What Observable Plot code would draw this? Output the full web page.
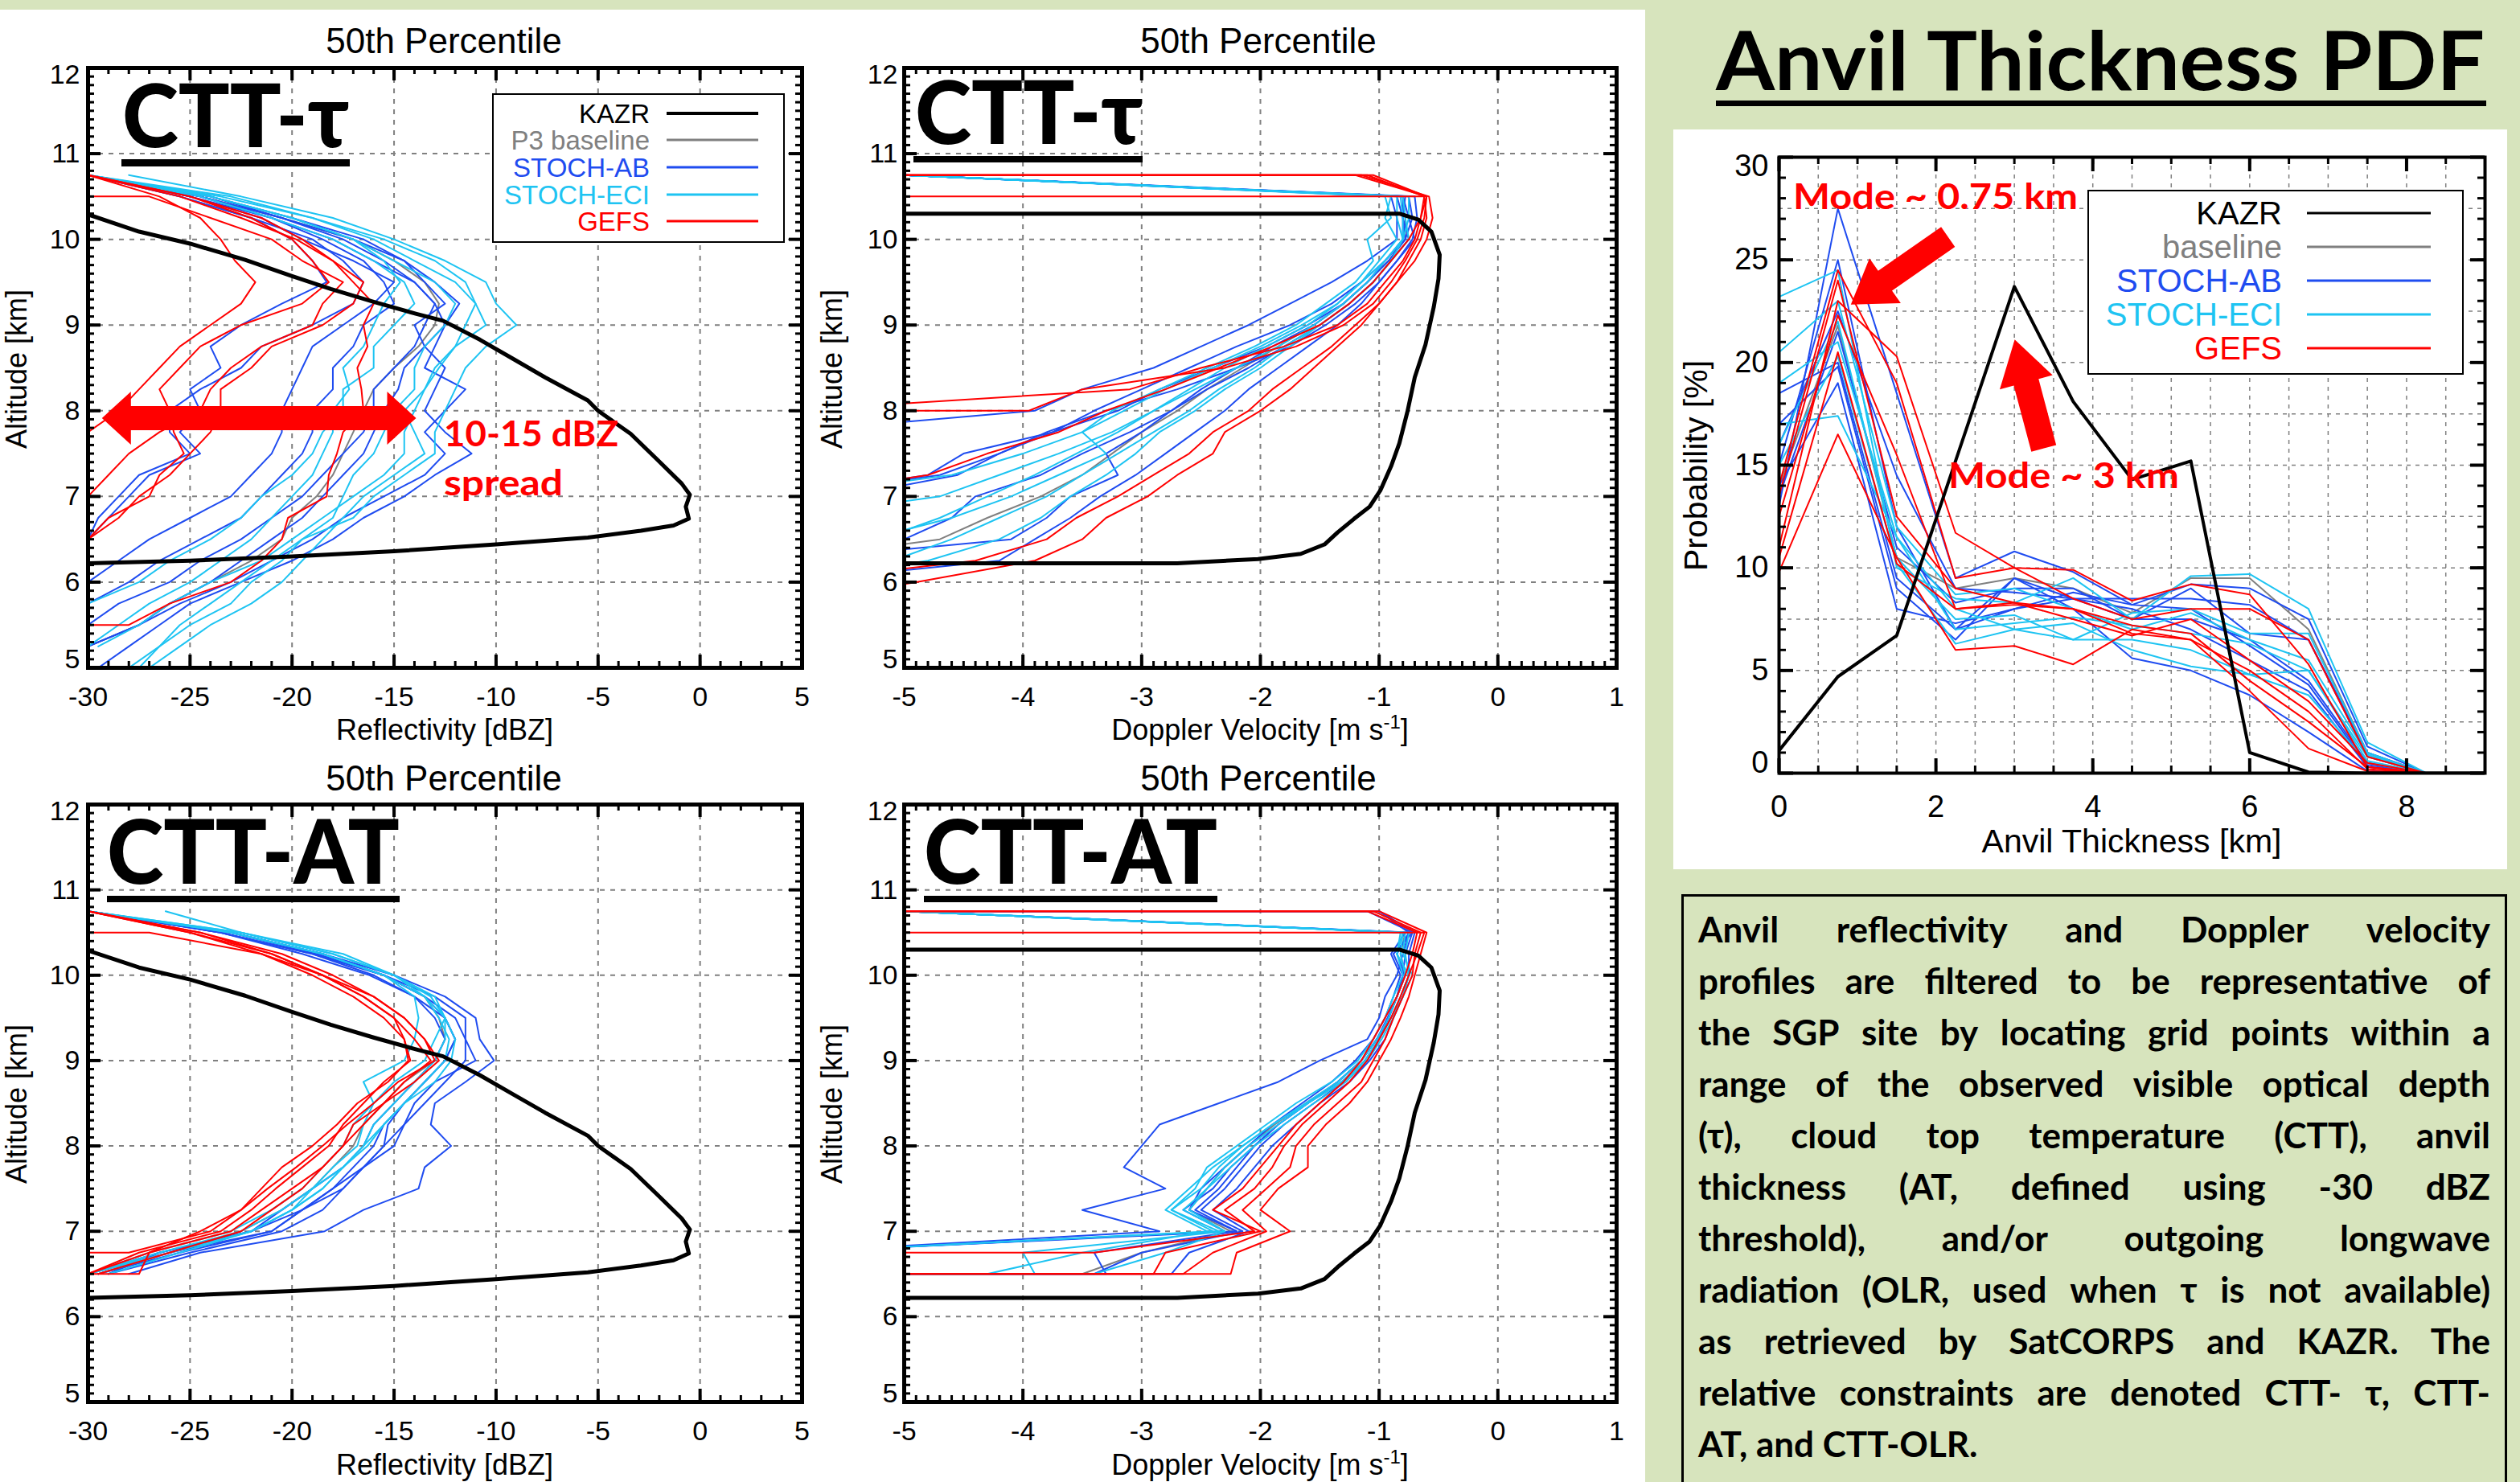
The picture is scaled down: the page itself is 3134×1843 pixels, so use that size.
<!DOCTYPE html>
<html><head><meta charset="utf-8">
<script src="https://cdn.jsdelivr.net/npm/d3@7"></script>
<script src="https://cdn.jsdelivr.net/npm/@observablehq/plot@0.6"></script>
<style>
body{margin:0;}
#page{position:relative;width:3134px;height:1843px;background:#d7e4bd;overflow:hidden;font-family:"Liberation Sans",Arial,sans-serif;}
.abs{position:absolute;}
</style></head>
<body><div id="page">
<div class="abs" style="left:0;top:12px;width:2046px;height:1831px;background:#fff"></div>
<div class="abs" style="left:2081px;top:161px;width:1037px;height:920px;background:#fff"></div>
<div class="abs" style="left:2091px;top:1112px;width:1027px;height:800px;border:3px solid #000;box-sizing:border-box"></div>
</div>
<script>
// ---------------- DATA ----------------
const LEVELS = [10.75,10.5,10.25,10.0,9.75,9.5,9.25,9.0,8.75,8.5,8.25,8.0,7.75,7.5,7.25,7.0,6.75,6.5,6.25,6.0,5.75,5.5,5.25,5.0];
const ALT_TICKS = [5,6,7,8,9,10,11,12];
const REFL_TICKS = [-30,-25,-20,-15,-10,-5,0,5];
const VEL_TICKS = [-5,-4,-3,-2,-1,0,1];
const PDF_X = [0,0.75,1.5,2.25,3.0,3.75,4.5,5.25,6.0,6.75,7.5,8.25,9.0];
const PDF_X_TICKS = [0,2,4,6,8];
const PDF_Y_TICKS = [0,5,10,15,20,25,30];
const SERIES_NAMES = ["KAZR","P3 baseline","STOCH-AB","STOCH-ECI","GEFS"];

// KAZR observed profiles
const KAZR_REFL_DBZ = [-30,-27.5,-25,-22.3,-20,-18.1,-16,-13.9,-12.6,-10.8,-9.2,-7.6,-5.5,-5.0,-3.4,-2.1,-0.9,-0.5,-0.7,-0.55,-1.3,-2.9,-5.5,-10,-15,-20,-25,-30];
const KAZR_REFL_ALT = [10.29,10.09,9.95,9.76,9.57,9.42,9.27,9.13,9.05,8.83,8.61,8.39,8.12,8.0,7.73,7.43,7.15,7.02,6.88,6.74,6.66,6.60,6.52,6.44,6.36,6.30,6.25,6.22];
const KAZR_VEL = [-5,-0.83,-0.67,-0.56,-0.49,-0.5,-0.54,-0.61,-0.70,-0.76,-0.83,-0.9,-0.99,-1.08,-1.21,-1.35,-1.46,-1.66,-2.02,-2.7,-5];
const KAZR_VEL_ALT = [10.30,10.30,10.23,10.09,9.82,9.54,9.21,8.77,8.39,8.0,7.62,7.35,7.07,6.88,6.74,6.58,6.44,6.33,6.27,6.22,6.22];

// Reflectivity, CTT-tau (values on LEVELS from 10.75 km down)
const REFL_TAU_BASE = [[-30,-24.5,-20.5,-17,-15,-13.5,-12.8,-13,-13.8,-15,-16,-16.5,-17,-17.5,-18,-18.8,-20,-20.5,-22,-24,-26,-27.5,-30]];
const REFL_TAU_AB = [
 [-30,-25,-21,-18,-16,-14,-13,-12.5,-13.5,-14.5,-14.8,-15.5,-16,-16.5,-17.5,-18.5,-19.5,-21,-22.5,-24,-26,-27.5,-30],
 [-30,-24.5,-20.5,-17,-14.5,-13,-11.8,-12.5,-13,-13.5,-11.5,-12.5,-13.5,-12.5,-13.5,-15.5,-17.5,-19,-21,-23,-25.5,-27.5,-30],
 [-30,-25.5,-22,-20,-19,-18.3,-20.5,-22.5,-24,-23.5,-25,-24.5,-25.5,-24.5,-27,-28,-29,-30],
 [-30,-25,-21.5,-19.5,-17,-15,-16,-17.5,-19,-19.5,-20,-20.5,-20.5,-21,-22,-23,-25,-27,-28.5,-30],
 [-30,-24,-20,-16.5,-14.5,-13.5,-12.5,-14,-13.5,-12.5,-13,-13.5,-12.5,-11.2,-13,-14.5,-16.5,-18,-20,-22.5,-25,-26.5,-28,-29.5],
 [-30,-24.5,-21,-18.5,-16.5,-15.5,-15,-16.5,-17,-18,-18,-19,-19,-19.5,-20.5,-21.5,-22.5,-24.5,-26.5,-28,-30],
 [-30,-25.5,-22,-19,-17.5,-16.5,-17,-19,-21.5,-22.5,-24.5,-26,-26,-25,-27.5,-28.5,-29.5,-30],
 [-30,-24,-20.5,-17.5,-15.5,-14,-13,-13.5,-14,-15,-16,-16,-16.5,-17.5,-18.5,-19.5,-21,-22.5,-24.5,-26,-28.5,-30]
];
const REFL_TAU_ECI = [
 [-28,-22.5,-18,-15,-12.5,-10.5,-10,-9,-10.5,-11.5,-12,-12.5,-13,-13,-14.5,-16,-17,-19.5,-21,-22.5,-24,-25.5,-26.5,-28],
 [-30,-23.5,-19,-16,-14,-12,-11,-11.5,-12,-12.8,-13.5,-14,-14.5,-14.5,-15.5,-17,-18.5,-20,-21.5,-24,-26,-27.5,-29.5],
 [-30,-24,-20,-17,-15.5,-14.7,-15.5,-16,-16.5,-17.5,-17.2,-18,-18,-18.5,-19,-20,-21,-22,-23.5,-25,-27,-28.5,-30],
 [-30,-24,-20,-17,-15,-13,-12,-12.5,-13.5,-14,-14,-15,-15.5,-16,-17,-17.5,-18,-19.5,-20.5,-22,-23,-25,-26.5,-27.5],
 [-30,-24.5,-21,-18,-16,-14.5,-14,-15,-16,-16,-17.5,-17.5,-18.5,-19,-20,-21.5,-22.5,-24,-26,-27.5,-30],
 [-30,-23,-19,-15.5,-13,-11.5,-11,-10.5,-12,-13,-13.5,-14.5,-14,-13.5,-15,-16.5,-17.5,-18.5,-19.5,-20.5,-22,-24,-25.5,-27]
];
const REFL_TAU_GEFS = [
 [-30,-26.5,-24.5,-23.5,-22.8,-21.8,-22.5,-24.0,-25.5,-26.5,-27.5,-28.5,-30],
 [-30,-25,-22,-20,-19,-18.2,-19.5,-22.5,-24.5,-25.5,-26.5,-26,-25.8,-25.3,-26.5,-27,-29,-30],
 [-30,-25.5,-22.5,-19.8,-18,-16.5,-17,-18.5,-21,-22,-23.5,-23.5,-24,-25,-26,-27.5,-28.5,-30],
 [-30,-25,-21.5,-19.5,-18,-17,-16,-16.5,-16.3,-16.8,-16.6,-16.5,-17.5,-17.8,-18.2,-18.3,-20.2,-20.5,-21.5,-23,-26,[-28,-30]],
 [null,[-30,-27],-24,-21,-19.5,-17.5,-18.5,-19,-21.5,-23,-24,-24.5,-26.5,-28,-29,-30]
];

// Doppler velocity, CTT-tau
const VEL_TAU_BASE = [[-5,-0.8,-0.78,-0.78,-0.92,-1.1,-1.3,-1.55,-1.85,-2.15,-2.45,-2.7,-3.0,-3.25,-3.5,-3.85,-4.3,-4.7,-6]];
const VEL_TAU_AB = [
 [-5,-0.85,-0.8,-0.75,-0.9,-1.05,-1.25,-1.5,-1.8,-2.1,-2.45,-2.75,-3.1,-3.5,-3.85,-4.4,-4.6,-5.0,-6],
 [-5,-0.8,-0.75,-0.7,-0.85,-1.0,-1.2,-1.45,-1.75,-2.2,-2.7,-3.3,-3.8,-4.2,-4.7,-6],
 [-5,-0.75,-0.72,-0.78,-0.95,-1.15,-1.4,-1.75,-2.2,-2.6,-3.0,-3.4,-3.75,-4.5,-4.8,-6],
 [-5,-0.78,-0.8,-0.8,-0.95,-1.1,-1.3,-1.55,-1.9,-2.2,-2.5,-2.75,-3.0,-3.3,-3.2,-3.6,-3.8,-4.1,-6],
 [-5,-0.9,-0.85,-0.85,-1.1,-1.4,-1.75,-2.1,-2.5,-2.9,-3.5,-3.9,-6],
 [-5,-0.7,-0.68,-0.72,-0.85,-1.0,-1.15,-1.35,-1.6,-1.85,-2.1,-2.3,-2.55,-2.8,-3.05,-3.35,-3.6,-3.9,-4.2,-6],
 [-5,-0.8,-0.8,-0.78,-0.92,-1.1,-1.3,-1.6,-1.95,-2.4,-2.85,-3.2,-3.75,-4.2,-4.55,-5.5]
];
const VEL_TAU_ECI = [
 [-5,-0.9,-0.95,-0.85,-1.0,-1.15,-1.35,-1.6,-1.95,-2.3,-2.6,-2.9,-3.2,-3.55,-3.9,-4.3,-4.7,-5.2],
 [-5,-0.8,-0.78,-0.75,-0.9,-1.05,-1.25,-1.5,-1.75,-2.0,-2.3,-2.55,-2.85,-3.05,-3.3,-3.6,-3.85,-4.2,-4.8,-6],
 [-5,-0.82,-0.8,-0.8,-0.95,-1.1,-1.3,-1.55,-1.85,-2.2,-2.55,-2.9,-3.25,-3.7,-4.2,-4.7,-6],
 [-5,-0.75,-0.75,-0.8,-0.9,-1.05,-1.25,-1.5,-1.8,-2.05,-2.35,-2.6,-2.9,-3.2,-3.5,-3.8,-4.2,-4.6,-5.1],
 [-5,-0.85,-0.85,-0.8,-0.95,-1.15,-1.35,-1.65,-2.0,-2.4,-2.8,-3.15,-3.5,-4.0,-4.6,-6],
 [-5,-0.95,-0.9,-1.1,-1.05,-1.2,-1.45,-1.7,-2.05,-2.45,-2.85,-3.25,-3.5,-3.3,-3.7,-4.1,-4.6,-5.3]
];
const VEL_TAU_GEFS = [
 [[-6,-1.15],-0.58,-0.55,-0.6,-0.7,-0.85,-1.0,-1.15,-1.35,-1.55,-1.75,-2.0,-2.3,-2.4,-2.7,-2.95,-3.3,-3.5,-3.9,-4.9,-6],
 [[-6,-1.05],-0.6,-0.62,-0.68,-0.78,-0.9,-1.05,-1.3,-1.7,-2.3,-3.5,[-3.95,-6]],
 [[-6,-1.1],-0.62,-0.65,-0.7,-0.8,-0.95,-1.1,-1.35,-1.8,-2.5,-3.1,-6],
 [null,[-6,-0.62],-0.6,-0.65,-0.75,-0.85,-1.0,-1.2,-1.4,-1.65,-1.9,-2.1,-2.4,-2.6,-2.9,-3.2,-3.55,-3.8,-4.4,-6],
 [[-6,-1.2],-0.6,-0.65,-0.75,-0.9,-1.05,-1.25,-1.5,-1.9,-2.35,-2.8,-3.3,-3.7,-4.3,-4.8,-6]
];

// Reflectivity, CTT-AT
const REFL_AT_BASE = [[-30,-23,-18.5,-15.5,-13.5,-12.8,-12.5,-13,-14.5,-15.5,-16.5,-17,-18,-19,-20.5,-22.5,-26,-29.5]];
const REFL_AT_AB = [
 [-30,-23.5,-19,-15.5,-13.5,-12.5,-12,-12.5,-13.5,-14.5,-15.3,-15.5,-16.5,-17.5,-18.5,-20.5,-25,-29],
 [-30,-23,-18.5,-15,-12.5,-11,-10.8,-10.1,-11.5,-13,-13.2,-12.2,-13.5,-13.8,-16.5,-18.4,-24.5,-28],
 [-30,-23,-18.5,-15.5,-13,-11.5,-11.5,-11,-13,-14,-14.5,-15.5,-16.5,-17.5,-19.5,-21,-25.5,-29.5],
 [-30,-23.5,-19,-16,-14,-12.5,-12,-12.5,-13.5,-14.5,-15.5,-16,-17,-18,-19.5,-21,-26,-30],
 [-30,-23,-18.8,-15.5,-13.5,-12,-11.5,-11.5,-12.5,-13.5,-14.5,-15,-16.5,-18,-19.5,-22,-26.5,-30],
 [-30,-23.5,-19.5,-16.2,-14,-13,-12.5,-13,-14,-15,-16,-16.5,-17.5,-19,-20.5,-22,-26.5,-29]
];
const REFL_AT_ECI = [
 [-26.2,-22.5,-17.5,-15,-13.5,-12.5,-13,-13.5,-15,-16,-16.5,-16.8,-18,-19,-20,-22,-26,-29.5],
 [-30,-22.5,-18,-15,-13,-12.5,-12.5,-13,-14,-15,-16,-16.5,-17.5,-18.5,-20,-22,-26,-30],
 [-30,-23,-18.5,-15.5,-13.5,-12.8,-12.3,-12.5,-13.5,-14.5,-15.5,-16.5,-17.5,-19,-20.5,-22.5,-26.5,-30],
 [-30,-22.5,-18,-15,-13.2,-12.5,-12,-12.2,-13,-14.5,-15.5,-16.3,-17.5,-18.5,-20,-22,-25.5,-29],
 [-30,-23,-18.5,-15.5,-14,-13.8,-14,-14.5,-16.5,-16,-17,-17.5,-18.5,-19.5,-21,-23,-27,-30]
];
const REFL_AT_GEFS = [
 [-30,-25,-21.5,-19,-17,-15.5,-14.5,-14.2,-15.5,-16.5,-17.5,-18.2,-19.5,-20.8,-22.0,-23.5,-27.5,-30],
 [-30,-24.5,-20.5,-18,-16,-14.5,-13.5,-12.8,-14,-15.5,-16.5,-17.5,-18.5,-19.5,-21,-22.5,-26,-29.5],
 [null,[-30,-27],-21.5,-18.5,-16.5,-15,-14,-13.2,-14.5,-15.5,-17,-17.5,-18.5,-20,-21.5,-23,-27,-30],
 [-30,-24.5,-21,-18.5,-16,-14.5,-13.5,-13,-14.8,-16,-17.3,-18.5,-19.8,-21.2,-22.5,-24,[-28,-30]],
 [-30,-25,-21,-18.5,-16.5,-15,-14.5,-14.3,-15.3,-16.8,-17.8,-19,-20.5,-21.5,-22.5,-24.5,-27,[-27.5,-30]]
];

// Doppler velocity, CTT-AT
const VEL_AT_BASE = [[-5,-0.78,-0.82,-0.78,-0.85,-0.92,-1.02,-1.15,-1.35,-1.62,-1.88,-2.1,-2.3,-2.45,-2.6,-2.25,-3.0,[-3.5,-6]]];
const VEL_AT_AB = [
 [[-6,-1.0],-0.75,-0.8,-0.85,-0.95,-1.0,-1.1,-1.5,-1.85,-2.35,-2.85,-3.0,-3.15,-2.8,-3.5,-2.85,-6],
 [[-6,-1.1],-0.72,-0.78,-0.8,-0.85,-0.92,-1.0,-1.12,-1.3,-1.55,-1.8,-2.0,-2.15,-2.3,-2.5,-2.15,-3.0,[-3.4,-6]],
 [-5,-0.75,-0.85,-0.78,-0.85,-0.92,-1.02,-1.15,-1.35,-1.6,-1.85,-2.05,-2.25,-2.4,-2.65,-2.3,-6],
 [-5,-0.78,-0.9,-0.82,-0.88,-0.95,-1.05,-1.2,-1.4,-1.65,-1.9,-2.1,-2.3,-2.5,-2.6,-2.2,-3.4,[-3.3,-6]],
 [[-6,-1.0],-0.7,-0.75,-0.75,-0.8,-0.88,-0.95,-1.08,-1.25,-1.5,-1.7,-1.9,-2.05,-2.2,-2.4,-2.1,-2.6,[-2.75,-6]],
 [-5,-0.72,-0.88,-0.8,-0.85,-0.93,-1.02,-1.15,-1.35,-1.6,-1.85,-2.05,-2.2,-2.35,-2.55,-2.2,-6]
];
const VEL_AT_ECI = [
 [-5,-0.8,-0.85,-0.75,-0.8,-0.9,-1.0,-1.12,-1.3,-1.6,-1.9,-2.15,-2.35,-2.5,-2.75,-2.4,-6],
 [-5,-0.78,-0.8,-0.72,-0.8,-0.88,-0.98,-1.1,-1.28,-1.55,-1.8,-2.05,-2.25,-2.45,-2.65,-2.3,-4.0,[-3.9,-6]],
 [-5,-0.75,-0.78,-0.75,-0.82,-0.9,-1.0,-1.12,-1.32,-1.6,-1.85,-2.1,-2.3,-2.45,-2.6,-2.3,-2.8,[-3.4,-6]],
 [-5,-0.8,-0.82,-0.78,-0.85,-0.92,-1.02,-1.15,-1.35,-1.62,-1.9,-2.15,-2.4,-2.6,-2.8,-2.45,-3.5,[-4.3,-6]],
 [-5,-0.82,-0.85,-0.8,-0.88,-0.95,-1.05,-1.18,-1.4,-1.7,-1.95,-2.2,-2.45,-2.55,-2.75,-2.35,-6]
];
const VEL_AT_GEFS = [
 [[-6,-1.0],-0.6,-0.65,-0.7,-0.75,-0.82,-0.9,-1.0,-1.1,-1.25,-1.45,-1.6,-1.6,-1.85,-2.0,-1.75,-2.2,[-2.25,-6]],
 [[-6,-1.05],-0.65,-0.7,-0.72,-0.8,-0.88,-0.95,-1.05,-1.15,-1.35,-1.55,-1.7,-1.75,-1.95,-2.15,-1.95,-2.4,[-2.65,-6]],
 [null,[-6,-0.62],-0.68,-0.75,-0.82,-0.9,-1.0,-1.1,-1.25,-1.45,-1.65,-1.8,-1.9,-2.05,-2.3,-2.05,[-3.4,-6]],
 [[-6,-1.1],-0.68,-0.72,-0.78,-0.85,-0.95,-1.05,-1.15,-1.3,-1.5,-1.7,-1.85,-2.0,-2.15,-2.4,-2.0,-2.8,[-2.9,-6]]
];

// Anvil thickness PDF (probability %, at PDF_X)
const PDF_KAZR = [1.1,4.7,6.7,15.2,23.7,18.1,14.3,15.2,1.0,0.05,0,0,0];
const PDF_BASE = [[14,21.8,10.5,9.0,9.5,9.0,7.8,9.5,9.5,7.0,1.0,0,0]];
const PDF_AB = [
 [13,27.5,18.5,9.5,10.8,9.8,8.2,9.2,9.0,7.5,1.3,0,0],
 [15,25,12,7.0,9.5,8.5,8.5,8.5,8.2,6.5,1.0,0,0],
 [17,19.8,9.0,6.5,9.5,8.0,5.6,5.0,3.8,2.0,0.1,0,0],
 [14,19.0,8.0,7.3,8.0,8.5,8.0,7.0,5.5,4.0,0.3,0,0],
 [16,22.5,14.5,9.0,8.8,8.5,7.5,9.0,6.8,6.5,0.8,0,0],
 [13.5,21.5,11.0,8.3,9.0,9.0,7.5,7.5,6.5,4.5,0.5,0,0],
 [18.5,20.0,9.5,7.0,8.0,8.8,8.2,8.0,6.2,4.3,0.4,0,0]
];
const PDF_ECI = [
 [23.2,24.5,10.0,8.5,8.3,9.5,7.5,9.6,9.7,8.0,1.5,0,0],
 [17,17.4,11.5,8.0,7.0,7.3,6.0,5.2,4.8,5.0,0.6,0,0],
 [16,22.0,10.5,7.5,7.7,6.5,7.8,8.0,6.8,6.8,1.0,0,0],
 [19,21.0,11.5,7.0,7.3,7.6,7.2,6.8,6.3,5.0,0.8,0,0],
 [15,20.3,10.2,6.3,7.0,6.5,6.5,6.0,4.8,3.8,0.5,0,0],
 [20.5,23.0,12.0,8.7,9.0,8.0,7.0,7.8,6.5,5.5,0.9,0,0]
];
const PDF_GEFS = [
 [9.8,16.5,10.5,6.0,6.2,5.3,7.0,6.5,4.0,1.2,0.1,0,0],
 [11,23,20.3,11.7,10.0,9.9,8.4,9.2,8.7,5.3,0.3,0,0],
 [14.0,24.5,19.0,9.5,10.0,8.5,7.5,8.0,8.0,6.5,0.8,0,0],
 [12.5,22.3,15.5,8.0,8.3,8.0,7.2,6.8,4.5,2.5,0.3,0,0],
 [13.5,24.0,12.5,9.0,8.3,7.5,6.7,7.5,5.5,3.5,0.5,0,0],
 [10.5,20.5,10.2,8.0,8.2,8.0,6.8,6.5,5.0,3.0,0.2,0,0]
];

// annotation anchors (data units)
const SPREAD_ARROW = {x1:-29.3, x2:-13.9, y:7.91};
const MODE1_ARROW = {x1:2.16, y1:26.1, x2:0.92, y2:22.8};
const MODE3_ARROW = {x1:3.38, y1:15.8, x2:3.01, y2:21.1};

const PARA_LINES = [
 "Anvil reflectivity and Doppler velocity",
 "profiles are filtered to be representative of",
 "the SGP site by locating grid points within a",
 "range of the observed visible optical depth",
 "(τ), cloud top temperature (CTT), anvil",
 "thickness (AT, defined using -30 dBZ",
 "threshold), and/or outgoing longwave",
 "radiation (OLR, used when τ is not available)",
 "as retrieved by SatCORPS and KAZR. The",
 "relative constraints are denoted CTT- τ, CTT-",
 "AT, and CTT-OLR."
];

// ---------------- STYLE ----------------
const C = {kazr:"#000000", base:"#808080", ab:"#1f4cf0", eci:"#1ec4f2", gefs:"#ff0000"};
const AXFONT = "'Liberation Sans', Arial, Helvetica, sans-serif";
const GRID = {stroke:"#808080", strokeWidth:2, strokeDasharray:"6,7"};
const page = document.getElementById("page");

function toRows(members) {
  const rows = [];
  members.forEach((m, id) => m.forEach((v, i) => {
    if (v == null) return;
    (Array.isArray(v) ? v : [v]).forEach(x => rows.push({id, x, y: LEVELS[i]}));
  }));
  return rows;
}
function pdfRows(members) {
  const rows = [];
  members.forEach((m, id) => m.forEach((v, i) => rows.push({id, x: PDF_X[i], y: v})));
  return rows;
}
function arrowPoly(a, b, w, hw, hl, dbl) {
  const dx = b[0]-a[0], dy = b[1]-a[1], L = Math.hypot(dx, dy);
  const u = [dx/L, dy/L], n = [-u[1], u[0]];
  const P = (p, s, t) => [p[0]+u[0]*s+n[0]*t, p[1]+u[1]*s+n[1]*t];
  let pts;
  if (dbl) pts = [a, P(a,hl,hw), P(a,hl,w), P(b,-hl,w), P(b,-hl,hw), b, P(b,-hl,-hw), P(b,-hl,-w), P(a,hl,-w), P(a,hl,-hw)];
  else pts = [P(a,0,w), P(b,-hl,w), P(b,-hl,hw), b, P(b,-hl,-hw), P(b,-hl,-w), P(a,0,-w)];
  return "M" + pts.map(p => p[0].toFixed(1)+","+p[1].toFixed(1)).join("L") + "Z";
}
function place(svg, left, top) {
  const d = document.createElement("div");
  d.className = "abs"; d.style.left = left+"px"; d.style.top = top+"px";
  d.appendChild(svg); page.appendChild(d);
}
// y tick labels: IDL pulls the end labels inside the frame
function yLabels(ticks, dx, dyFirst, dyLast, fontSize) {
  const o = {y: d=>d, frameAnchor:"left", dx, textAnchor:"end", lineAnchor:"middle", text: d=>String(d), fontSize};
  return [
    Plot.text(ticks.slice(0,1), {...o, dy: dyFirst}),
    Plot.text(ticks.slice(1,-1), o),
    Plot.text(ticks.slice(-1), {...o, dy: dyLast})
  ];
}

function profilePanel(o) {
  const {left, top, width, height, fx0, fx1, fy0, fy1, xDomain, xTicks, xMinorStep, groups, kx, ky, yDx, extra} = o;
  const yPerPx = 7/(fy1-fy0), xPerPx = (xDomain[1]-xDomain[0])/(fx1-fx0);
  const xMinor = d3.range(xDomain[0], xDomain[1]+1e-9, xMinorStep);
  const yMinor = d3.range(5, 12+1e-9, 0.1);
  const mn = 8, mj = 16;
  const tickMarks = (xs, ys, len, sw) => [
    Plot.ruleX(xs, {x: d=>d, y1: ()=>12, y2: ()=>12-len*yPerPx, stroke:"black", strokeWidth:sw}),
    Plot.ruleX(xs, {x: d=>d, y1: ()=>5, y2: ()=>5+len*yPerPx, stroke:"black", strokeWidth:sw}),
    Plot.ruleY(ys, {y: d=>d, x1: ()=>xDomain[0], x2: ()=>xDomain[0]+len*xPerPx, stroke:"black", strokeWidth:sw}),
    Plot.ruleY(ys, {y: d=>d, x1: ()=>xDomain[1], x2: ()=>xDomain[1]-len*xPerPx, stroke:"black", strokeWidth:sw})
  ];
  const marks = [
    Plot.ruleX(xTicks.slice(1,-1), {x: d=>d, ...GRID}),
    Plot.ruleY(ALT_TICKS.slice(1,-1), {y: d=>d, ...GRID}),
    ...groups.map(g => Plot.line(toRows(g.members), {x:"x", y:"y", z:"id", stroke:g.color, strokeWidth:2, clip:true})),
    Plot.line(kx.map((x,i)=>({x, y:ky[i]})), {x:"x", y:"y", stroke:C.kazr, strokeWidth:5, strokeLinejoin:"round", clip:true}),
    ...tickMarks(xMinor, yMinor, mn, 3),
    ...tickMarks(xTicks, ALT_TICKS, mj, 4),
    Plot.frame({stroke:"black", strokeWidth:5}),
    Plot.text(xTicks, {x: d=>d, frameAnchor:"bottom", dy:37, lineAnchor:"middle", text: d=>String(d), fontSize:34}),
    ...yLabels(ALT_TICKS, yDx, -10, 9, 34)
  ];
  if (extra) marks.push(extra);
  const svg = Plot.plot({
    width, height,
    marginLeft: fx0-left, marginRight: left+width-fx1, marginTop: fy0-top, marginBottom: top+height-fy1,
    x: {domain: xDomain, axis: null}, y: {domain: [5,12], axis: null},
    style: {background:"transparent", fontFamily: AXFONT, overflow:"visible", color:"black"},
    marks
  });
  place(svg, left, top);
}

const spreadArrowMark = (index, s) => {
  const p = d3.create("svg:path")
    .attr("d", arrowPoly([s.x(SPREAD_ARROW.x1), s.y(SPREAD_ARROW.y)], [s.x(SPREAD_ARROW.x2), s.y(SPREAD_ARROW.y)], 15, 33, 36, true))
    .attr("fill", "#ff0000");
  return p.node();
};

const G = (base, ab, eci, gefs) => [
  {color:C.base, members:base}, {color:C.ab, members:ab}, {color:C.eci, members:eci}, {color:C.gefs, members:gefs}
];

profilePanel({left:0, top:0, width:1040, height:940, fx0:109, fx1:997, fy0:84, fy1:830,
  xDomain:[-30,5], xTicks:REFL_TICKS, xMinorStep:1, yDx:-10,
  groups:G(REFL_TAU_BASE, REFL_TAU_AB, REFL_TAU_ECI, REFL_TAU_GEFS), kx:KAZR_REFL_DBZ, ky:KAZR_REFL_ALT, extra: spreadArrowMark});
profilePanel({left:1040, top:0, width:1006, height:940, fx0:1124, fx1:2010, fy0:84, fy1:830,
  xDomain:[-5,1], xTicks:VEL_TICKS, xMinorStep:0.1, yDx:-8,
  groups:G(VEL_TAU_BASE, VEL_TAU_AB, VEL_TAU_ECI, VEL_TAU_GEFS), kx:KAZR_VEL, ky:KAZR_VEL_ALT});
profilePanel({left:0, top:920, width:1040, height:923, fx0:109, fx1:997, fy0:1000, fy1:1743,
  xDomain:[-30,5], xTicks:REFL_TICKS, xMinorStep:1, yDx:-10,
  groups:G(REFL_AT_BASE, REFL_AT_AB, REFL_AT_ECI, REFL_AT_GEFS), kx:KAZR_REFL_DBZ, ky:KAZR_REFL_ALT});
profilePanel({left:1040, top:920, width:1006, height:923, fx0:1124, fx1:2010, fy0:1000, fy1:1743,
  xDomain:[-5,1], xTicks:VEL_TICKS, xMinorStep:0.1, yDx:-8,
  groups:G(VEL_AT_BASE, VEL_AT_AB, VEL_AT_ECI, VEL_AT_GEFS), kx:KAZR_VEL, ky:KAZR_VEL_ALT});

// ---- PDF panel ----
(function(){
  const left=2081, top=161, width=1037, height=920, fx0=2212, fx1=3090, fy0=195, fy1=961;
  const yPerPx = 30/(fy1-fy0), xPerPx = 9/(fx1-fx0);
  const tm = (xs, ys, len, sw) => [
    Plot.ruleX(xs, {x:d=>d, y1:()=>30, y2:()=>30-len*yPerPx, stroke:"black", strokeWidth:sw}),
    Plot.ruleX(xs, {x:d=>d, y1:()=>0, y2:()=>len*yPerPx, stroke:"black", strokeWidth:sw}),
    Plot.ruleY(ys, {y:d=>d, x1:()=>0, x2:()=>len*xPerPx, stroke:"black", strokeWidth:sw}),
    Plot.ruleY(ys, {y:d=>d, x1:()=>9, x2:()=>9-len*xPerPx, stroke:"black", strokeWidth:sw})
  ];
  const arrows = (index, s) => {
    const g = d3.create("svg:g").attr("fill", "#ff0000");
    g.append("path").attr("d", arrowPoly([s.x(MODE1_ARROW.x1), s.y(MODE1_ARROW.y1)], [s.x(MODE1_ARROW.x2), s.y(MODE1_ARROW.y2)], 15, 34, 52, false));
    g.append("path").attr("d", arrowPoly([s.x(MODE3_ARROW.x1), s.y(MODE3_ARROW.y1)], [s.x(MODE3_ARROW.x2), s.y(MODE3_ARROW.y2)], 16, 34, 55, false));
    return g.node();
  };
  const groups = [{color:C.base, m:PDF_BASE}, {color:C.ab, m:PDF_AB}, {color:C.eci, m:PDF_ECI}, {color:C.gefs, m:PDF_GEFS}];
  const svg = Plot.plot({
    width, height, marginLeft: fx0-left, marginRight: left+width-fx1, marginTop: fy0-top, marginBottom: top+height-fy1,
    x: {domain:[0,9], axis:null}, y: {domain:[0,30], axis:null},
    style: {background:"transparent", fontFamily: AXFONT, overflow:"visible", color:"black"},
    marks: [
      Plot.ruleX(d3.range(0.5, 9, 0.5), {x:d=>d, stroke:"#808080", strokeWidth:1.5, strokeDasharray:"5,6"}),
      Plot.ruleY(d3.range(2.5, 30, 2.5), {y:d=>d, stroke:"#808080", strokeWidth:1.5, strokeDasharray:"5,6"}),
      ...groups.map(g => Plot.line(pdfRows(g.m), {x:"x", y:"y", z:"id", stroke:g.color, strokeWidth:2, clip:true})),
      Plot.line(PDF_X.map((x,i)=>({x, y:PDF_KAZR[i]})), {x:"x", y:"y", stroke:C.kazr, strokeWidth:4, clip:true}),
      ...tm(d3.range(0, 9.001, 0.5), d3.range(0, 30.001, 1), 9, 3),
      ...tm(PDF_X_TICKS, PDF_Y_TICKS, 18, 4),
      Plot.frame({stroke:"black", strokeWidth:4}),
      Plot.text(PDF_X_TICKS, {x:d=>d, frameAnchor:"bottom", dy:42, lineAnchor:"middle", text:d=>String(d), fontSize:38}),
      ...yLabels(PDF_Y_TICKS, -13, -13, 11, 38),
      arrows
    ]
  });
  place(svg, left, top);
})();

// ---------------- OVERLAY TEXT ----------------
const ov = d3.select(page).append("svg").attr("class","abs").attr("width",3134).attr("height",1843)
  .style("left","0px").style("top","0px").attr("font-family", AXFONT);

function t(x, y, str, opts={}) {
  const e = ov.append("text").attr("x", x).attr("y", y).text(str);
  for (const k in opts) e.attr(k, opts[k]);
  return e;
}
// titles
[[552,66],[1565,66],[552,983],[1565,983]].forEach(([x,y]) => t(x, y, "50th Percentile", {"font-size":44, "text-anchor":"middle"}));
// x titles
[[553,920],[553,1834]].forEach(([x,y]) => t(x, y, "Reflectivity [dBZ]", {"font-size":36, "text-anchor":"middle"}));
[[1567,920],[1567,1834]].forEach(([x,y]) => {
  const e = t(x, y, "Doppler Velocity [m s", {"font-size":36, "text-anchor":"middle"});
  e.append("tspan").attr("dy", -14).attr("font-size", 24).text("-1");
  e.append("tspan").attr("dy", 14).text("]");
});
// y titles
[[20,459],[1034,459],[20,1373],[1034,1373]].forEach(([x,y]) =>
  ov.append("text").attr("transform", `translate(${x},${y}) rotate(-90)`).attr("text-anchor","middle")
    .attr("dominant-baseline","central").attr("font-size",36).text("Altitude [km]"));

// panel legend
(function(){
  ov.append("rect").attr("x",613).attr("y",117).attr("width",362).attr("height",184).attr("fill","#fff").attr("stroke","#000").attr("stroke-width",2);
  const cols = [C.kazr, C.base, C.ab, C.eci, C.gefs];
  [141,174,208,242,275].forEach((y,i) => {
    t(808, y+12, SERIES_NAMES[i], {"font-size":33, "text-anchor":"end", fill:cols[i]});
    ov.append("line").attr("x1",829).attr("x2",943).attr("y1",y).attr("y2",y).attr("stroke",cols[i]).attr("stroke-width", i===0?4:3);
  });
})();

// big constraint labels
const BIG = {"font-family":"Lato, 'Open Sans', sans-serif", "font-weight":900, "lengthAdjust":"spacingAndGlyphs"};
t(152, 183, "CTT-τ", {...BIG, "font-size":108, textLength:282});
ov.append("rect").attr("x",151).attr("y",198).attr("width",284).attr("height",9);
t(1138, 179, "CTT-τ", {...BIG, "font-size":108, textLength:283});
ov.append("rect").attr("x",1136).attr("y",194).attr("width",285).attr("height",8);
t(133, 1099, "CTT-AT", {...BIG, "font-size":110, textLength:364});
ov.append("rect").attr("x",133).attr("y",1114).attr("width",364).attr("height",8);
t(1149, 1099, "CTT-AT", {...BIG, "font-size":110, textLength:365});
ov.append("rect").attr("x",1149).attr("y",1114).attr("width",365).attr("height",8);

const RED = {"font-family":"Lato, 'Open Sans', sans-serif", "font-weight":700, fill:"#ff0000", "lengthAdjust":"spacingAndGlyphs"};
t(552, 555, "10-15 dBZ", {...RED, "font-size":43, textLength:217});
t(552, 616, "spread", {...RED, "font-size":43, textLength:148});

// right column title
t(2134, 112, "Anvil Thickness PDF", {"font-family":"Lato, 'Open Sans', sans-serif", "font-weight":700, "font-size":102, textLength:956, lengthAdjust:"spacingAndGlyphs"});
ov.append("rect").attr("x",2134).attr("y",125).attr("width",958).attr("height",7);

// PDF legend
(function(){
  ov.append("rect").attr("x",2597).attr("y",237).attr("width",466).attr("height",228).attr("fill","#fff").attr("stroke","#000").attr("stroke-width",2);
  const names = ["KAZR","baseline","STOCH-AB","STOCH-ECI","GEFS"];
  const cols = [C.kazr, C.base, C.ab, C.eci, C.gefs];
  [265,307,349,391,433].forEach((y,i) => {
    t(2838, y+14, names[i], {"font-size":40, "text-anchor":"end", fill:cols[i]});
    ov.append("line").attr("x1",2869).attr("x2",3023).attr("y1",y).attr("y2",y).attr("stroke",cols[i]).attr("stroke-width",3);
  });
})();
t(2230, 260, "Mode ~ 0.75 km", {...RED, "font-size":44, textLength:354});
t(2423, 607, "Mode ~ 3 km", {...RED, "font-size":44, textLength:287});
t(2651, 1060, "Anvil Thickness [km]", {"font-size":41, "text-anchor":"middle"});
ov.append("text").attr("transform","translate(2109,579) rotate(-90)").attr("text-anchor","middle")
  .attr("dominant-baseline","central").attr("font-size",41).text("Probability [%]");

// justified paragraph
(function(){
  const F = 44, x0 = 2112, W = 985;
  const grp = ov.append("g").attr("font-family","Lato, 'Open Sans', sans-serif").attr("font-weight",700).attr("font-size",F);
  const probe = grp.append("text").text("a a"), probe2 = grp.append("text").text("aa");
  const spaceW = probe.node().getComputedTextLength() - probe2.node().getComputedTextLength();
  probe.remove(); probe2.remove();
  const lines = PARA_LINES.map(s => {
    const words = s.split(" ");
    const nodes = words.map(w => grp.append("text").text(w));
    const widths = nodes.map(n => n.node().getComputedTextLength());
    return {words, nodes, widths};
  });
  let sx = 1;
  lines.forEach(l => { const need = d3.sum(l.widths) + (l.words.length-1)*spaceW*0.85; if (need > W) sx = Math.min(sx, W/need); });
  const Wu = W/sx;
  lines.forEach((l,i) => {
    const y = 1172 + 64*i, last = i === lines.length-1;
    const gap = last ? spaceW : (Wu - d3.sum(l.widths))/Math.max(1, l.words.length-1);
    let x = 0;
    l.nodes.forEach((n,j) => { n.attr("x", x).attr("y", y); x += l.widths[j] + gap; });
  });
  grp.attr("transform", `translate(${x0},0) scale(${sx},1)`);
})();
</script>
</body></html>
